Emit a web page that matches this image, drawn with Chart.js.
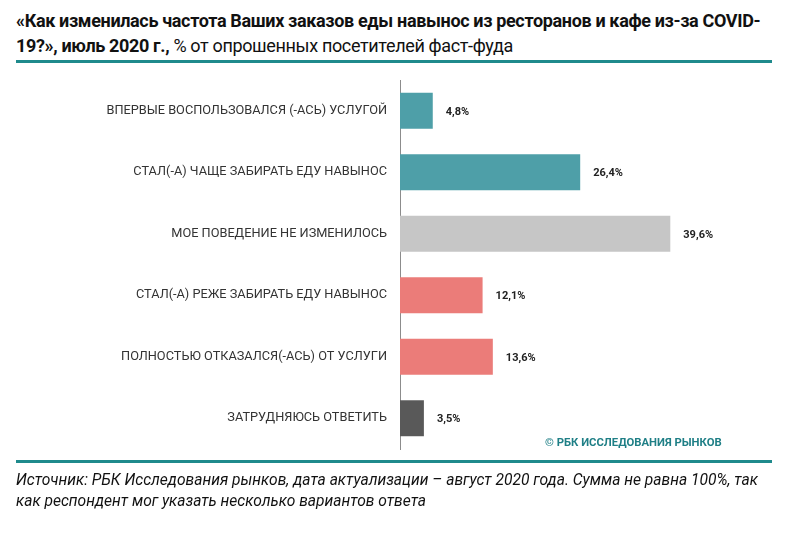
<!DOCTYPE html>
<html>
<head>
<meta charset="utf-8">
<script src="https://cdn.jsdelivr.net/npm/chart.js@4"></script>
<style>
  html, body { margin: 0; padding: 0; background: #fff; }
  #wrap { position: relative; width: 792px; height: 542px; overflow: hidden; }
  #chart { position: absolute; left: 0; top: 0; }
  .title {
    position: absolute; left: 16px; top: 8px; white-space: nowrap;
    font-family: 'Roboto', sans-serif; letter-spacing: -0.35px;
    font-size: 18px; line-height: 25px; color: #111;
  }
  .title b { font-weight: bold; }
  .rule { position: absolute; left: 16px; width: 756px; height: 3px; background: #1f8a8c; }
  .note {
    position: absolute; left: 16px; top: 470px; white-space: nowrap;
    font-family: 'Roboto', sans-serif;
    font-style: italic; font-size: 15.6px; line-height: 21px; color: #111;
  }
  .mark {
    position: absolute; left: 545px; top: 436px;
    font-family: 'Roboto', sans-serif;
    font-weight: bold; font-size: 11.3px; color: #1f7f86;
  }
</style>
</head>
<body>
<div id="wrap">
  <div class="title"><b>«Как изменилась частота Ваших заказов еды навынос из ресторанов и кафе из-за COVID-<br>19?», июль 2020 г.,</b> % от опрошенных посетителей фаст-фуда</div>
  <div class="rule" style="top:60px"></div>
  <canvas id="chart" width="792" height="542"></canvas>
  <div class="mark">© РБК ИССЛЕДОВАНИЯ РЫНКОВ</div>
  <div class="rule" style="top:460px"></div>
  <div class="note">Источник: РБК Исследования рынков, дата актуализации – август 2020 года. Сумма не равна 100%, так<br>как респондент мог указать несколько вариантов ответа</div>
</div>
<script>
const categories = [
  'ВПЕРВЫЕ ВОСПОЛЬЗОВАЛСЯ (-АСЬ) УСЛУГОЙ',
  'СТАЛ(-А) ЧАЩЕ ЗАБИРАТЬ ЕДУ НАВЫНОС',
  'МОЕ ПОВЕДЕНИЕ НЕ ИЗМЕНИЛОСЬ',
  'СТАЛ(-А) РЕЖЕ ЗАБИРАТЬ ЕДУ НАВЫНОС',
  'ПОЛНОСТЬЮ ОТКАЗАЛСЯ(-АСЬ) ОТ УСЛУГИ',
  'ЗАТРУДНЯЮСЬ ОТВЕТИТЬ'
];
const shares = [4.8, 26.4, 39.6, 12.1, 13.6, 3.5];
const barColors = ['#4e9fa8', '#4e9fa8', '#c6c6c6', '#eb7c79', '#eb7c79', '#595959'];

// подписи значений справа от столбцов
const valueLabels = {
  id: 'valueLabels',
  afterDatasetsDraw(chart) {
    const ctx = chart.ctx;
    const meta = chart.getDatasetMeta(0);
    ctx.save();
    ctx.font = 'bold 11px Roboto, sans-serif';
    ctx.fillStyle = '#222';
    ctx.textBaseline = 'middle';
    meta.data.forEach((bar, i) => {
      ctx.fillText(shares[i].toFixed(1).replace('.', ',') + '%', bar.x + 13, bar.y + 1);
    });
    ctx.restore();
  }
};

new Chart(document.getElementById('chart'), {
  type: 'bar',
  data: {
    labels: categories,
    datasets: [{
      data: shares,
      backgroundColor: barColors,
      barPercentage: 0.585,
      categoryPercentage: 1
    }]
  },
  options: {
    indexAxis: 'y',
    responsive: false,
    animation: false,
    layout: { padding: { top: 80, bottom: 93, right: 20, left: 0 } },
    scales: {
      x: { display: false, min: 0, max: 54.5 },
      y: {
        afterFit: (scale) => { scale.width = 400; },
        grid: { display: true, drawOnChartArea: false, drawTicks: false },
        border: { display: true, color: '#8c8c8c', width: 1 },
        ticks: {
          padding: 13,
          color: '#333',
          font: { family: 'Roboto, sans-serif', size: 12.75 }
        }
      }
    },
    plugins: {
      legend: { display: false },
      tooltip: { enabled: false }
    }
  },
  plugins: [valueLabels]
});
</script>
</body>
</html>
